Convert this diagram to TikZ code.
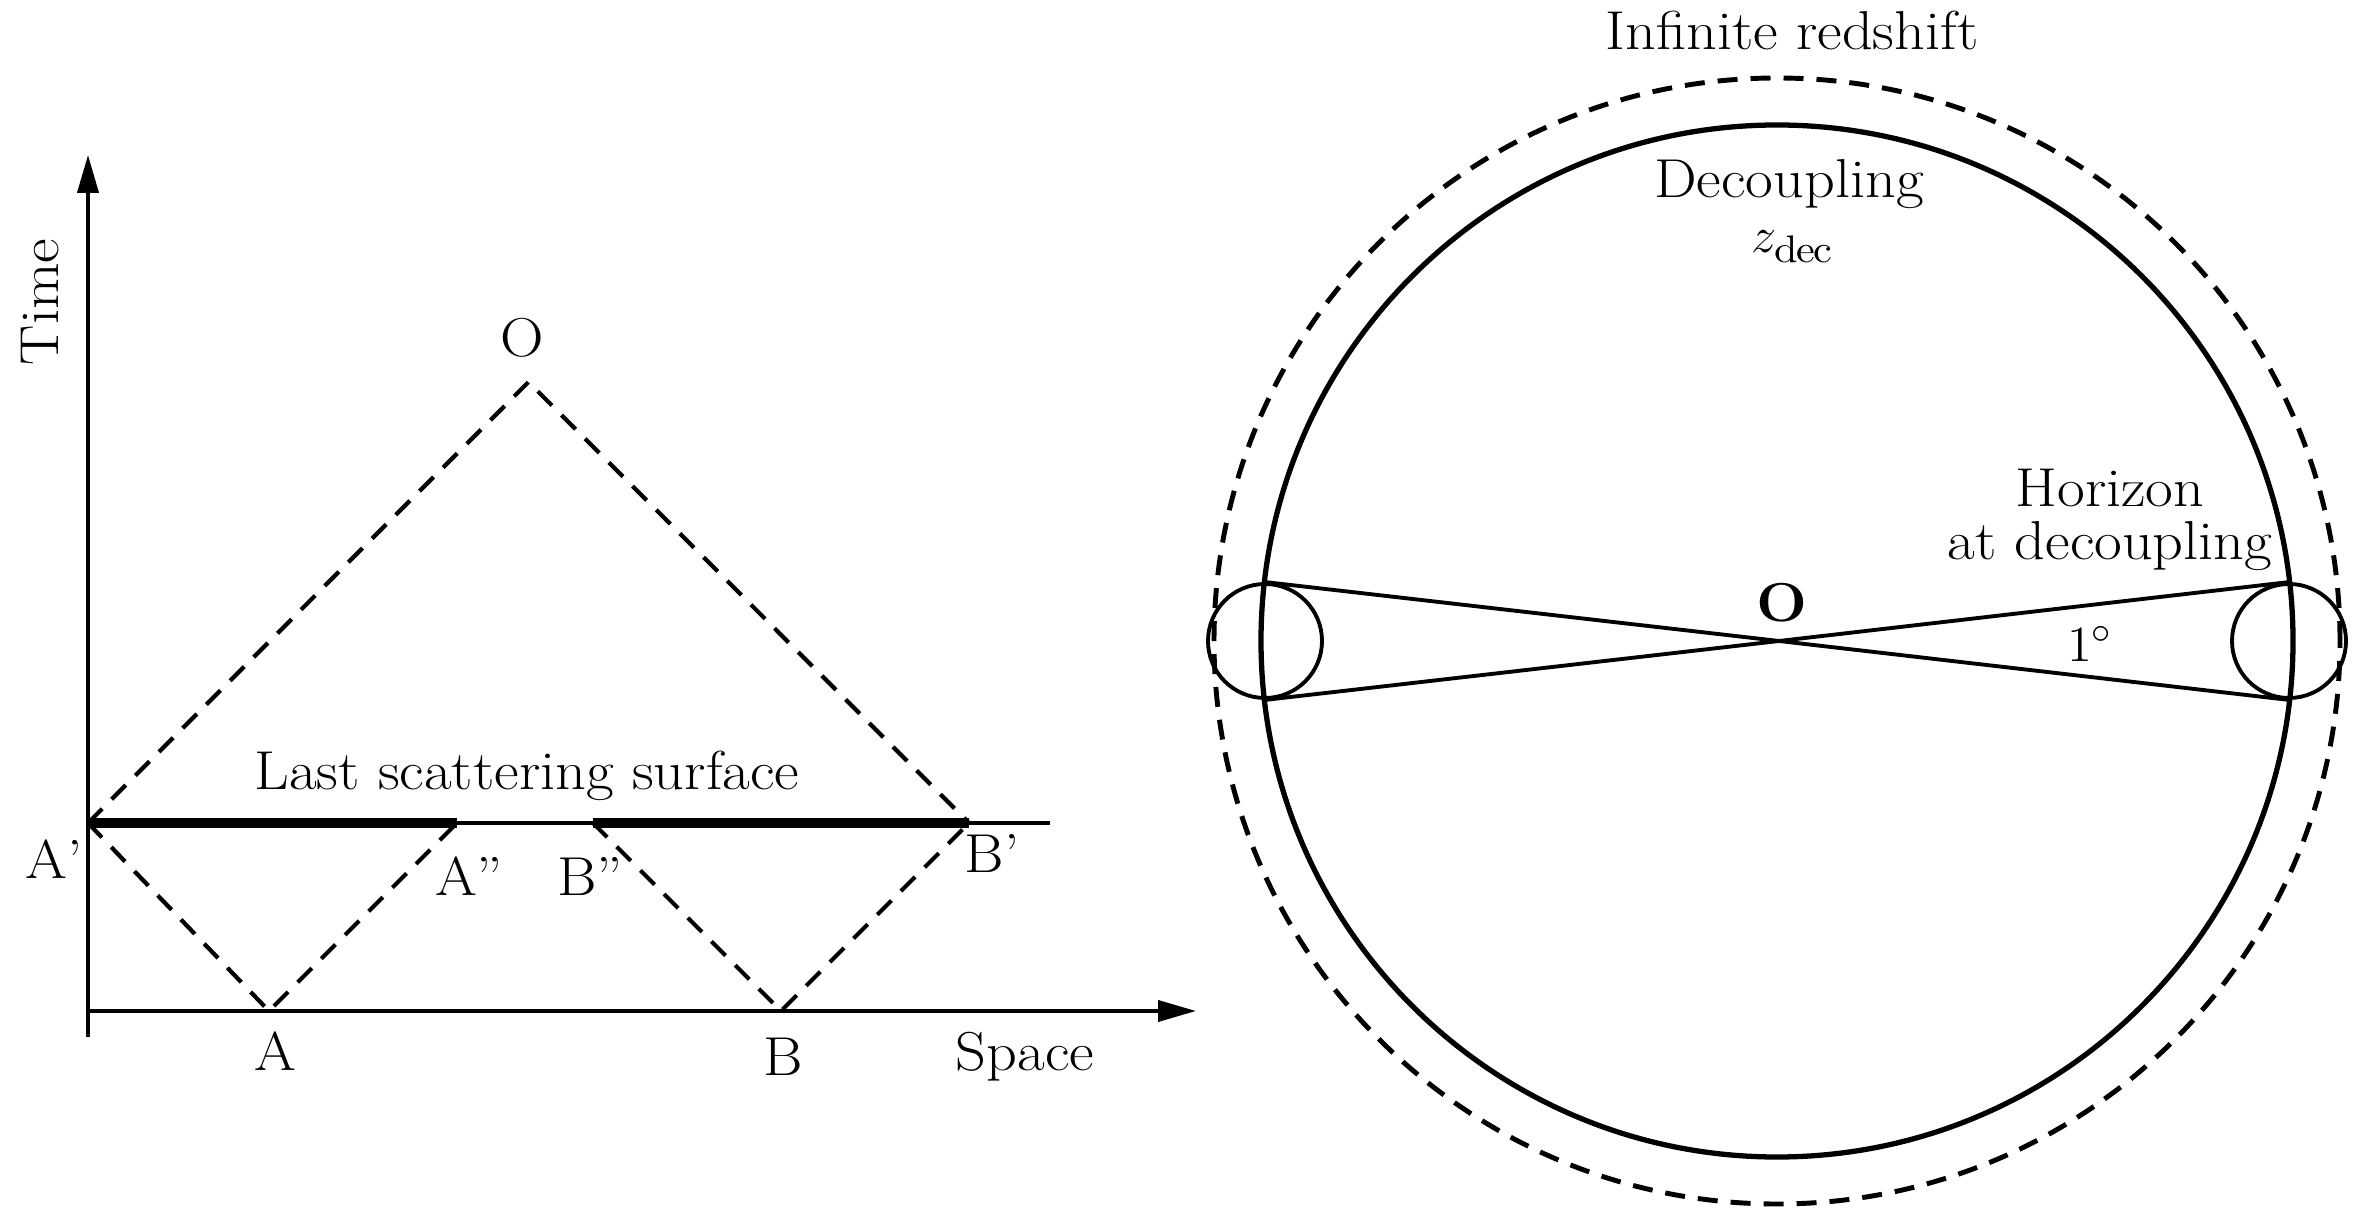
\documentclass[tikz,border=0pt]{standalone}
\usepackage{fontspec}
\setmainfont{Latin Modern Roman}[FakeStretch=1.1]
\usepackage{tikz}
\usetikzlibrary{arrows.meta}

\begin{document}
\begin{tikzpicture}[font=\fontsize{15.6}{18}\selectfont,
  axis/.style={line width=1.1pt, -{Triangle[length=3.8mm,width=2.1mm]}},
  ray/.style={line width=1.2pt, dash pattern=on 2mm off 1.35mm},
  lbl/.style={anchor=base, inner sep=0pt},
  horizon/.style={circle, draw, line width=1.1pt, minimum size=11.4mm, inner sep=0pt}]
  \useasboundingbox (0,0) rectangle (23.67,12.12);
  % space-time diagram
  \coordinate (orig) at (0.88,2.01);
  \coordinate (A1) at (0.88,3.89);
  \coordinate (A)  at (2.69,2.01);
  \coordinate (A2) at (4.57,3.89);
  \coordinate (B2) at (5.93,3.89);
  \coordinate (B)  at (7.81,2.01);
  \coordinate (B1) at (9.69,3.89);
  \coordinate (O)  at (5.285,8.30);
  \coordinate (lssend) at (10.50,3.89);
  \draw[axis] (0.88,1.75) -- (0.88,10.57);
  \draw[axis] (orig) -- (11.96,2.01);
  \draw[line width=1.1pt] (A1) -- (lssend);
  \draw[line width=2.8pt] (A1) -- (A2);
  \draw[line width=2.8pt] (B2) -- (B1);
  \draw[ray] (A1) -- (O) -- (B1);
  \draw[ray] (A1) -- (A) -- (A2);
  \draw[ray] (B2) -- (B) -- (B1);
  \node[lbl, rotate=90] (tlab) at (0.58,9.10) {Time};
  \node[lbl] (olab) at (5.22,8.55) {O};
  \node[lbl] (lss) at (5.27,4.22) {Last scattering surface};
  \node[lbl] (a1lab) at (0.54,3.33) {A'};
  \node[lbl] (a2lab) at (4.69,3.17) {A''};
  \node[lbl] (b2lab) at (5.90,3.16) {B''};
  \node[lbl] (b1lab) at (9.92,3.39) {B'};
  \node[lbl] (alab) at (2.75,1.42) {A};
  \node[lbl] (blab) at (7.83,1.37) {B};
  \node[lbl] (slab) at (10.25,1.42) {Space};
  % sky as seen from O
  \coordinate (ctr) at (17.77,5.71);
  \draw[line width=1.5pt] (ctr) circle (5.16);
  \draw[line width=1.4pt, dash pattern=on 2mm off 1.3mm] (ctr) circle (5.63);
  \node[horizon] (hl) at (12.65,5.71) {};
  \node[horizon] (hr) at (22.89,5.71) {};
  \coordinate (obs) at (17.79,5.71);
  \draw[line width=1.1pt] (hl.north) -- (obs) -- (hr.south);
  \draw[line width=1.1pt] (hl.south) -- (obs) -- (hr.north);
  \node[lbl] (inf) at (17.92,11.62) {Infinite redshift};
  \node[lbl] (dec) at (17.89,10.14) {Decoupling};
  \node[lbl] (zdec) at (17.92,9.59) {$z_{\mathrm{dec}}$};
  \node[lbl] (hor1) at (21.10,7.05) {Horizon};
  \node[lbl] (hor2) at (21.10,6.52) {at decoupling};
  \node[lbl] (ang) at (20.90,5.50) {$1^{\circ}$};
  \node[lbl] (obslab) at (17.82,5.90) {\textbf{O}};
\end{tikzpicture}
\end{document}
